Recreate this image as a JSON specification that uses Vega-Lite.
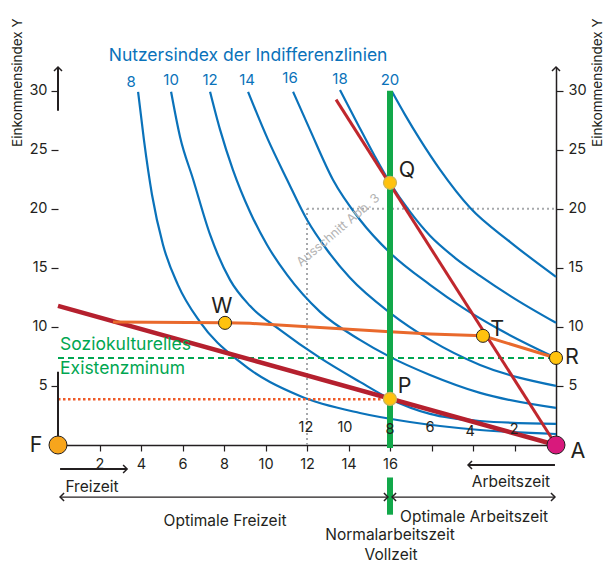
{
  "$schema": "https://vega.github.io/schema/vega-lite/v6.json",
  "width": 498,
  "height": 378,
  "autosize": {"type": "none"},
  "padding": {"left": 58, "top": 67, "right": 53, "bottom": 119},
  "background": "white",
  "config": {
    "view": {"stroke": null},
    "font": "Inter",
    "axis": {"grid": false, "title": null, "labelFont": "Inter", "labelColor": "#231f20", "labelFontSize": 14.5, "tickColor": "#231f20", "domainColor": "#231f20", "domainWidth": 1.5, "tickWidth": 1.2}
  },
  "datasets": {
    "curves": [
      {"u":"8","x":3.86,"y":29.9},{"u":"8","x":4.14,"y":25.85},{"u":"8","x":4.53,"y":21.19},{"u":"8","x":5.06,"y":16.95},{"u":"8","x":5.78,"y":13.56},{"u":"8","x":6.84,"y":10.42},{"u":"8","x":8.77,"y":7.03},{"u":"8","x":11.66,"y":4.15},{"u":"8","x":14.55,"y":2.71},{"u":"8","x":16.96,"y":1.95},{"u":"8","x":20.34,"y":1.27},{"u":"8","x":24,"y":0.93},
      {"u":"10","x":5.45,"y":29.9},{"u":"10","x":5.88,"y":26.1},{"u":"10","x":6.51,"y":22.5},{"u":"10","x":7.33,"y":17.8},{"u":"10","x":8.29,"y":13.98},{"u":"10","x":9.25,"y":11.78},{"u":"10","x":10.7,"y":9.75},{"u":"10","x":12.63,"y":7.37},{"u":"10","x":14.55,"y":5.34},{"u":"10","x":16,"y":3.9},{"u":"10","x":17.93,"y":2.63},{"u":"10","x":20.34,"y":2.03},{"u":"10","x":24,"y":1.78},
      {"u":"12","x":7.33,"y":29.9},{"u":"12","x":7.81,"y":26.7},{"u":"12","x":8.43,"y":23.3},{"u":"12","x":9.25,"y":19.75},{"u":"12","x":10.07,"y":16.95},{"u":"12","x":11.04,"y":14.4},{"u":"12","x":12.63,"y":11.27},{"u":"12","x":14.55,"y":8.9},{"u":"12","x":16,"y":7.46},{"u":"12","x":17.93,"y":5.93},{"u":"12","x":20.34,"y":4.41},{"u":"12","x":24,"y":3.14},
      {"u":"14","x":9.16,"y":29.9},{"u":"14","x":10.12,"y":25.85},{"u":"14","x":11.04,"y":22.46},{"u":"14","x":12.0,"y":19.07},{"u":"14","x":12.96,"y":16.53},{"u":"14","x":14.07,"y":14.15},{"u":"14","x":16,"y":11.19},{"u":"14","x":17.93,"y":8.9},{"u":"14","x":20.34,"y":6.78},{"u":"14","x":24,"y":5.0},
      {"u":"16","x":11.33,"y":29.9},{"u":"16","x":12.14,"y":26.7},{"u":"16","x":13.25,"y":22.46},{"u":"16","x":14.55,"y":19.07},{"u":"16","x":16,"y":16.27},{"u":"16","x":17.93,"y":13.56},{"u":"16","x":19.52,"y":11.61},{"u":"16","x":21.3,"y":9.75},{"u":"16","x":24,"y":7.37},
      {"u":"18","x":13.59,"y":30.05},{"u":"18","x":14.46,"y":27.12},{"u":"18","x":15.28,"y":24.41},{"u":"18","x":16,"y":22.2},{"u":"18","x":16.96,"y":19.75},{"u":"18","x":17.93,"y":17.71},{"u":"18","x":19.13,"y":15.85},{"u":"18","x":20.34,"y":14.32},{"u":"18","x":22.02,"y":12.37},{"u":"18","x":24,"y":10.34},
      {"u":"20","x":16.1,"y":29.9},{"u":"20","x":16.72,"y":27.97},{"u":"20","x":17.45,"y":25.85},{"u":"20","x":18.41,"y":23.31},{"u":"20","x":19.86,"y":20.08},{"u":"20","x":21.78,"y":17.2},{"u":"20","x":24,"y":14.24}
    ]
  },
  "encoding": {
    "x": {"field": "x", "type": "quantitative", "scale": {"domain": [0, 24], "nice": false, "zero": false},
          "axis": {"orient": "bottom", "values": [2,4,6,8,10,12,14,16,18,20,22], "labelExpr": "datum.value <= 16 ? datum.label : ''", "tickSize": 6, "labelPadding": 6}},
    "y": {"field": "y", "type": "quantitative", "scale": {"domain": [0, 32], "nice": false, "zero": false},
          "axis": {"orient": "left", "values": [5,10,15,20,25,30], "domain": false, "tickSize": 7, "labelPadding": 4}}
  },
  "resolve": {"axis": {"y": "independent"}},
  "layer": [
    {
      "layer": [
        {"data": {"values": [{"x":12,"y":0,"x2":12,"y2":20},{"x":12,"y":20,"x2":24,"y2":20}]},
         "mark": {"type": "rule", "color": "#a7a9ac", "strokeWidth": 2, "strokeDash": [2, 3]},
         "encoding": {"x2": {"field": "x2"}, "y2": {"field": "y2"}}},
        {"data": {"name": "curves"},
         "mark": {"type": "line", "color": "#0a72ba", "strokeWidth": 2.2, "interpolate": "monotone"},
         "encoding": {"detail": {"field": "u"}}},
        {"data": {"values": [{"x":0,"y":7.37,"x2":24,"y2":7.37}]},
         "mark": {"type": "rule", "color": "#00a651", "strokeWidth": 2, "strokeDash": [6, 4]},
         "encoding": {"x2": {"field": "x2"}, "y2": {"field": "y2"}}},
        {"data": {"values": [{"x":0,"y":3.88,"x2":16,"y2":3.88}]},
         "mark": {"type": "rule", "color": "#ef5a28", "strokeWidth": 2.5, "strokeDash": [2.5, 2.5]},
         "encoding": {"x2": {"field": "x2"}, "y2": {"field": "y2"}}},
        {"data": {"values": [{"x":0,"y":11.78},{"x":24,"y":0}]},
         "mark": {"type": "line", "color": "#b5202e", "strokeWidth": 4.5},
         "encoding": {}},
        {"data": {"values": [{"x":13.4,"y":29.24},{"x":24,"y":0}]},
         "mark": {"type": "line", "color": "#c0272d", "strokeWidth": 3},
         "encoding": {}},
        {"data": {"values": [{"x":2.65,"y":10.42},{"x":8.05,"y":10.34},{"x":9.25,"y":10.3},{"x":16,"y":9.58},{"x":17.93,"y":9.4},{"x":20.48,"y":9.24},{"x":24,"y":7.37}]},
         "mark": {"type": "line", "color": "#e9692c", "strokeWidth": 3},
         "encoding": {}},
        {"data": {"values": [{"x":16,"y":-0.25,"x2":16,"y2":30},{"x":16,"y":-2.75,"x2":16,"y2":-5.9}]},
         "mark": {"type": "rule", "color": "#12a84a", "strokeWidth": 6},
         "encoding": {"x2": {"field": "x2"}, "y2": {"field": "y2"}}},
        {"data": {"values": [{"x":0,"y":0,"x2":0,"y2":6.2},{"x":0,"y":28.3,"x2":0,"y2":32},{"x":0.1,"y":-2.03,"x2":3.33,"y2":-2.03},{"x":19.76,"y":-1.69,"x2":23.95,"y2":-1.69}]},
         "mark": {"type": "rule", "color": "#231f20", "strokeWidth": 2},
         "encoding": {"x2": {"field": "x2"}, "y2": {"field": "y2"}}},
        {"data": {"values": [{"x":0.1,"y":-4.41,"x2":15.9,"y2":-4.41},{"x":16.1,"y":-4.41,"x2":23.95,"y2":-4.41}]},
         "mark": {"type": "rule", "color": "#231f20", "strokeWidth": 1.1},
         "encoding": {"x2": {"field": "x2"}, "y2": {"field": "y2"}}},
        {"data": {"values": [{"x":0,"y":32,"d":"up"},{"x":24,"y":32,"d":"up"},{"x":3.33,"y":-2.03,"d":"right"},{"x":19.76,"y":-1.69,"d":"left"},{"x":0.1,"y":-4.41,"d":"left"},{"x":15.9,"y":-4.41,"d":"right"},{"x":16.1,"y":-4.41,"d":"left"},{"x":23.95,"y":-4.41,"d":"right"}]},
         "mark": {"type": "point", "filled": false, "stroke": "#231f20", "strokeWidth": 1.5, "size": 64, "opacity": 1},
         "encoding": {"shape": {"field": "d", "type": "nominal", "scale": {"domain": ["up","left","right"], "range": ["M-1,1L0,0L1,1","M1,-1L0,0L1,1","M-1,-1L0,0L-1,1"]}, "legend": null}}},
        {"data": {"values": [{"x":0,"y":0}]},
         "mark": {"type": "point", "filled": true, "fill": "#f7a51c", "stroke": "#231f20", "strokeWidth": 1, "size": 324, "opacity": 1},
         "encoding": {}},
        {"data": {"values": [{"x":24,"y":0}]},
         "mark": {"type": "point", "filled": true, "fill": "#d8197c", "stroke": "#231f20", "strokeWidth": 1, "size": 324, "opacity": 1},
         "encoding": {}},
        {"data": {"values": [{"x":8.05,"y":10.34},{"x":20.48,"y":9.24},{"x":24,"y":7.37}]},
         "mark": {"type": "point", "filled": true, "fill": "#ffc20e", "stroke": "#231f20", "strokeWidth": 1, "size": 170, "opacity": 1},
         "encoding": {}},
        {"data": {"values": [{"x":16,"y":22.2},{"x":16,"y":3.9}]},
         "mark": {"type": "point", "filled": true, "fill": "#ffc20e", "stroke": "#c9b45a", "strokeWidth": 1.2, "size": 170, "opacity": 1},
         "encoding": {}},
        {"data": {"values": [{"t":"Nutzersindex der Indifferenzlinien","x":9.16,"y":32.9}]},
         "mark": {"type": "text", "color": "#0a72ba", "fontSize": 17.5, "align": "center", "baseline": "middle"},
         "encoding": {"text": {"field": "t"}}},
        {"data": {"values": [{"t":"8","x":3.52,"y":30.76},{"t":"10","x":5.45,"y":30.93},{"t":"12","x":7.33,"y":30.93},{"t":"14","x":9.11,"y":30.93},{"t":"16","x":11.18,"y":31.1},{"t":"18","x":13.59,"y":31.0},{"t":"20","x":16.0,"y":30.93}]},
         "mark": {"type": "text", "color": "#0a72ba", "fontSize": 15, "align": "center", "baseline": "middle"},
         "encoding": {"text": {"field": "t"}}},
        {"data": {"values": [{"t":"Q","x":16.82,"y":23.2},{"t":"W","x":7.9,"y":11.69},{"t":"T","x":21.16,"y":9.75},{"t":"R","x":24.77,"y":7.37},{"t":"P","x":16.7,"y":4.95},{"t":"F","x":-1.06,"y":-0.08},{"t":"A","x":25.06,"y":-0.59}]},
         "mark": {"type": "text", "color": "#231f20", "fontSize": 21.5, "align": "center", "baseline": "middle"},
         "encoding": {"text": {"field": "t"}}},
        {"data": {"values": [{"t":"12","x":11.95,"y":1.44},{"t":"10","x":13.83,"y":1.44},{"t":"8","x":16,"y":1.27},{"t":"6","x":17.93,"y":1.44},{"t":"4","x":19.86,"y":1.1},{"t":"2","x":21.98,"y":1.27}]},
         "mark": {"type": "text", "color": "#231f20", "fontSize": 14.5, "align": "center", "baseline": "middle"},
         "encoding": {"text": {"field": "t"}}},
        {"data": {"values": [{"t":"Soziokulturelles","x":0.1,"y":8.47},{"t":"Existenzminum","x":0.1,"y":6.44}]},
         "mark": {"type": "text", "color": "#00a651", "fontSize": 17.5, "align": "left", "baseline": "middle"},
         "encoding": {"text": {"field": "t"}}},
        {"data": {"values": [{"t":"Freizeit","x":1.64,"y":-3.56},{"t":"Arbeitszeit","x":21.83,"y":-3.14},{"t":"Optimale Freizeit","x":8.05,"y":-6.44},{"t":"Optimale Arbeitszeit","x":20.05,"y":-6.1},{"t":"Normalarbeitszeit","x":16,"y":-7.6},{"t":"Vollzeit","x":16.05,"y":-9.32}]},
         "mark": {"type": "text", "color": "#231f20", "fontSize": 15.5, "align": "center", "baseline": "middle"},
         "encoding": {"text": {"field": "t"}}},
        {"data": {"values": [{"t":"Einkommensindex Y","x":-1.93,"y":30.68},{"t":"Einkommensindex Y","x":26.02,"y":30.68}]},
         "mark": {"type": "text", "color": "#231f20", "fontSize": 13.5, "align": "center", "baseline": "middle", "angle": 270},
         "encoding": {"text": {"field": "t"}}},
        {"data": {"values": [{"t":"Ausschnitt Abb. 3","x":13.5,"y":18.2}]},
         "mark": {"type": "text", "color": "#b3b3b3", "fontSize": 12.5, "align": "center", "baseline": "middle", "angle": -40.5},
         "encoding": {"text": {"field": "t"}}}
      ]
    },
    {
      "data": {"values": [{"x":24,"y":0},{"x":24,"y":32}]},
      "mark": {"type": "point", "opacity": 0},
      "encoding": {
        "y": {"field": "y", "type": "quantitative", "scale": {"domain": [0, 32], "nice": false, "zero": false},
              "axis": {"orient": "right", "values": [5,10,15,20,25,30], "domain": true, "tickSize": 7, "labelPadding": 5}}
      }
    }
  ]
}
